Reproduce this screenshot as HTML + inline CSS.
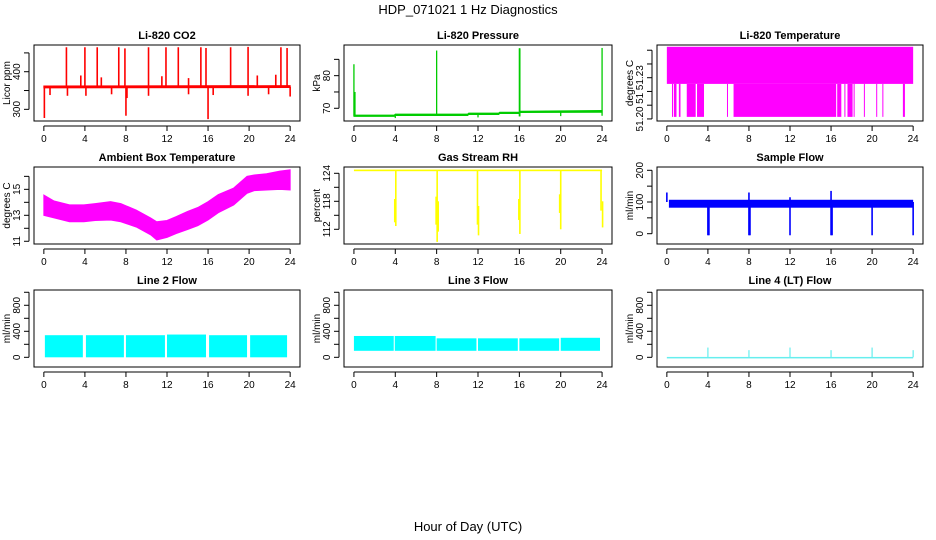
<!DOCTYPE html>
<html><head><meta charset="utf-8"><style>
html,body{margin:0;padding:0;background:#fff;}
svg{display:block;font-family:"Liberation Sans",sans-serif;}
</style></head><body>
<svg id="c" width="936" height="540" viewBox="0 0 936 540">
<text x="468" y="14" text-anchor="middle" font-size="13">HDP_071021  1 Hz Diagnostics</text>
<text x="468" y="531" text-anchor="middle" font-size="13">Hour of Day (UTC)</text>
</svg>
<script>
// ---- shared x axis ----
const xTicks = [0,4,8,12,16,20,24];
// ---- Li-820 CO2 ----
const co2BandX = [0,24];
const co2BandLo = [357,358];
const co2BandHi = [362,363];
const co2SpikeX = [2.2,4.0,5.2,7.3,7.9,10.2,11.9,13.1,15.3,15.8,18.2,19.9,23.1,23.7,3.6,5.6,11.5,14.1,20.8,22.6,0.05,0.6,2.3,4.1,6.6,8.1,10.2,14.1,16.5,19.9,21.9,24,8,16];
const co2SpikeLo = [360,360,360,360,360,360,360,360,360,360,360,360,360,360,360,360,360,360,360,360,277,338,336,336,340,330,336,340,338,336,340,334,283,274];
const co2SpikeHi = [465,465,465,465,462,465,465,465,465,463,465,466,465,463,390,385,388,383,390,392,360,360,360,360,360,360,360,360,360,360,360,360,360,360];
// ---- Li-820 Pressure ----
const prsBandX = [0,3.9,4,11,11.1,14,14.1,16,16.1,24];
const prsBandLo = [67.5,67.5,67.8,67.8,68.1,68.1,68.4,68.4,68.7,68.8];
const prsBandHi = [67.9,67.9,68.2,68.2,68.5,68.5,68.8,68.8,69.1,69.3];
const prsSpikeX = [0,0.1,8,16,16.05,24,4,12,20];
const prsSpikeLo = [67.7,67.7,67.7,67.5,67.5,67.7,67.0,67.2,67.6];
const prsSpikeHi = [83.5,75,87.7,88.4,88.4,88.5,68,68.3,68.9];
// ---- Li-820 Temperature ----
const tmpBlockStart = [0];
const tmpBlockEnd = [24];
const tmpBlockLo = [51.2255];
const tmpBlockHi = [51.2525];
const tmpLowStart = [0.5,0.68,1.17,1.94,2.94,5.86,6.5,16.6,17.3,17.6,18.2,19.2,20.4,21.0,23.0];
const tmpLowEnd = [0.56,0.94,1.33,2.81,3.62,5.92,16.5,17.0,17.4,18.1,18.25,19.25,20.45,21.05,23.2];
const tmpLowLo = [51.2015,51.2015,51.2015,51.2015,51.2015,51.2015,51.2015,51.2015,51.2015,51.2015,51.2015,51.2015,51.2015,51.2015,51.2015];
const tmpLowHi = [51.2255,51.2255,51.2255,51.2255,51.2255,51.2255,51.2255,51.2255,51.2255,51.2255,51.2255,51.2255,51.2255,51.2255,51.2255];
// ---- Ambient Box Temperature ----
const ambX = [0,1,2.5,3.9,5,6.5,7.5,9,10.4,11,12,12.9,14,15,16,17,18.5,19.8,20.5,21.7,23,24];
const ambLo = [13.0,12.8,12.5,12.5,12.6,12.64,12.5,12.1,11.5,11.1,11.3,11.6,11.9,12.2,12.64,13.2,13.8,14.7,14.9,14.95,15.0,14.95];
const ambHi = [14.56,14.1,13.8,13.8,13.9,14.05,13.9,13.4,12.8,12.5,12.6,12.9,13.3,13.6,14.05,14.6,15.1,16.0,16.1,16.2,16.4,16.5];
// ---- Gas Stream RH ----
const rhBlockStart = [0];
const rhBlockEnd = [24];
const rhBlockLo = [124.45];
const rhBlockHi = [124.8];
const rhSpikeX = [3.95,4.05,7.95,8.05,8.15,11.95,12.05,15.95,16.05,19.9,20.0,23.9,24.05];
const rhSpikeLo = [113.5,112.7,113,109.3,111.5,113,110.7,114,111,115.5,112,116,112.4];
const rhSpikeHi = [118.5,124.6,119,124.6,118,124.6,117,118.5,124.6,119.5,124.6,124.6,118];
// ---- Sample Flow ----
const sfBlockStart = [0.2];
const sfBlockEnd = [24];
const sfBlockLo = [82];
const sfBlockHi = [107];
const sfSpikeX = [0,4,4.1,8,8.1,12,16,16.1,20,24,8,12,16];
const sfSpikeLo = [100,-5,-5,-5,-5,-5,-5,-5,-5,-5,100,100,100];
const sfSpikeHi = [130,100,100,100,100,100,100,100,100,100,130,115,135];
// ---- Line 2 Flow ----
const l2BlockStart = [0.1,4.1,8.0,12.0,16.1,20.1];
const l2BlockEnd = [3.8,7.8,11.8,15.8,19.8,23.7];
const l2BlockLo = [0,0,0,0,0,0];
const l2BlockHi = [340,340,340,350,340,340];
// ---- Line 3 Flow ----
const l3BlockStart = [0,3.95,8,12,16,20];
const l3BlockEnd = [3.85,7.9,11.85,15.85,19.85,23.8];
const l3BlockLo = [100,100,100,100,100,100];
const l3BlockHi = [328,328,292,292,292,300];
// ---- Line 4 (LT) Flow ----
const l4BlockStart = [0];
const l4BlockEnd = [24];
const l4BlockLo = [-6];
const l4BlockHi = [6];
const l4SpikeX = [4,8,12,16,20,24];
const l4SpikeLo = [0,0,0,0,0,0];
const l4SpikeHi = [150,110,150,110,150,110];

const NS = "http://www.w3.org/2000/svg";
const svg = document.getElementById('c');
function mk(tag, attrs, parent){
  const e = document.createElementNS(NS, tag);
  for (const k in attrs) e.setAttribute(k, attrs[k]);
  (parent||svg).appendChild(e);
  return e;
}
const colL = [34,344,657], colR = [300,612,923];
const rowT = [45,167,290], rowB = [121,244,367];

function panel(o){
  const L = colL[o.col], R = colR[o.col], T = rowT[o.row], B = rowB[o.row];
  const g = mk('g', {});
  
  
  const xs = h => L + (h + 0.96) / 25.92 * (R - L);
  const ys = v => B - (v - o.yMin) / (o.yMax - o.yMin) * (B - T);
  // clip
  const cid = 'clip-' + o.name;
  const cp = mk('clipPath', {id: cid}, g);
  mk('rect', {x: L, y: T, width: R - L, height: B - T}, cp);
  const d = mk('g', {'clip-path': 'url(#' + cid + ')'}, g);
  
  
  if (o.bandX) {
    let pts = o.bandX.map((h,i) => xs(h) + ',' + ys(o.bandHi[i]));
    pts = pts.concat(o.bandX.map((h,i) => xs(h) + ',' + ys(o.bandLo[i])).reverse());
    const p = mk('polygon', {points: pts.join(' '), fill: o.color, stroke: o.color, 'stroke-width': 1}, d);
    
    
  }
  const blocks = (s, e, lo, hi, nm, fill) => {
    if (!s) return;
    s.forEach((h,i) => {
      const x1 = xs(h), x2 = Math.max(xs(e[i]), x1 + 1);
      const r = mk('rect', {x: x1, y: ys(hi[i]), width: x2 - x1, height: Math.max(ys(lo[i]) - ys(hi[i]), 1.5), fill: fill}, d);
      
      
    });
  };
  blocks(o.bs, o.be, o.blo, o.bhi, o.name + '-block', o.color);
  blocks(o.ls, o.le, o.llo, o.lhi, o.name + '-low-block', o.color);
  if (o.sx) {
    o.sx.forEach((h,i) => {
      const l = mk('line', {x1: xs(h), x2: xs(h), y1: ys(o.slo[i]), y2: ys(o.shi[i]), stroke: o.color, 'stroke-width': o.sw || 1.6}, d);
      
      
    });
  }
  // box
  const box = mk('rect', {x: L, y: T, width: R - L, height: B - T, fill: 'none', stroke: '#000', 'stroke-width': 1}, g);
  
  
  // title
  const t = mk('text', {x: (L + R) / 2, y: T - 6, 'text-anchor': 'middle', 'font-size': 11, 'font-weight': 'bold'}, g);
  t.textContent = o.title;
  
  
  // x axis
  const xa = mk('g', {}, g);
  
  
  mk('line', {x1: xs(0), x2: xs(24), y1: B + 5, y2: B + 5, stroke: '#000'}, xa);
  xTicks.forEach(h => {
    mk('line', {x1: xs(h), x2: xs(h), y1: B + 5, y2: B + 10, stroke: '#000'}, xa);
    const tl = mk('text', {x: xs(h), y: B + 21, 'text-anchor': 'middle', 'font-size': 10}, xa);
    tl.textContent = h;
    
    
  });
  // y axis
  const ya = mk('g', {}, g);
  
  
  const ax = L - 5;
  mk('line', {x1: ax, x2: ax, y1: ys(o.yTicks[0]), y2: ys(o.yTicks[o.yTicks.length - 1]), stroke: '#000'}, ya);
  o.yTicks.forEach(v => mk('line', {x1: ax, x2: ax - 5, y1: ys(v), y2: ys(v), stroke: '#000'}, ya));
  o.yLabels.forEach((v,i) => {
    const y = ys(v);
    const tl = mk('text', {x: 0, y: 0, 'text-anchor': 'middle', 'font-size': 10, transform: 'translate(' + (ax - 9) + ',' + y + ') rotate(-90)'}, ya);
    tl.textContent = o.yLabelText[i];
    
    
  });
  const yt = mk('text', {x: 0, y: 0, 'text-anchor': 'middle', 'font-size': 10, transform: 'translate(' + (L - 24) + ',' + ((T + B) / 2) + ') rotate(-90)'}, ya);
  yt.textContent = o.ylab;
  
  
}

panel({name:'co2', col:0,row:0,title:'Li-820 CO2',ylab:'Licor ppm',color:'#ff0000',yMin:269,yMax:471,
  yTicks:[300,350,400,450],yLabels:[300,400],yLabelText:['300','400'],
  bandX:co2BandX,bandLo:co2BandLo,bandHi:co2BandHi,sx:co2SpikeX,slo:co2SpikeLo,shi:co2SpikeHi});
panel({name:'pressure', col:1,row:0,title:'Li-820 Pressure',ylab:'kPa',color:'#00cc00',yMin:66.1,yMax:89.4,
  yTicks:[70,75,80,85],yLabels:[70,80],yLabelText:['70','80'],
  bandX:prsBandX,bandLo:prsBandLo,bandHi:prsBandHi,sx:prsSpikeX,slo:prsSpikeLo,shi:prsSpikeHi,sw:1.3});
panel({name:'li820-temp', col:2,row:0,title:'Li-820 Temperature',ylab:'degrees C',color:'#ff00ff',yMin:51.1985,yMax:51.2538,
  yTicks:[51.20,51.21,51.22,51.23,51.24,51.25],yLabels:[51.20,51.215,51.23],yLabelText:['51.20','51','51.23'],
  bs:tmpBlockStart,be:tmpBlockEnd,blo:tmpBlockLo,bhi:tmpBlockHi,ls:tmpLowStart,le:tmpLowEnd,llo:tmpLowLo,lhi:tmpLowHi});
panel({name:'ambient-temp', col:0,row:1,title:'Ambient Box Temperature',ylab:'degrees C',color:'#ff00ff',yMin:10.79,yMax:16.72,
  yTicks:[11,12,13,14,15,16],yLabels:[11,13,15],yLabelText:['11','13','15'],
  bandX:ambX,bandLo:ambLo,bandHi:ambHi});
panel({name:'gas-rh', col:1,row:1,title:'Gas Stream RH',ylab:'percent',color:'#ffff00',yMin:108.85,yMax:125.35,
  yTicks:[112,115,118,121,124],yLabels:[112,118,124],yLabelText:['112','118','124'],
  bs:rhBlockStart,be:rhBlockEnd,blo:rhBlockLo,bhi:rhBlockHi,sx:rhSpikeX,slo:rhSpikeLo,shi:rhSpikeHi});
panel({name:'sample-flow', col:2,row:1,title:'Sample Flow',ylab:'ml/min',color:'#0000ff',yMin:-32.5,yMax:210.4,
  yTicks:[0,50,100,150,200],yLabels:[0,100,200],yLabelText:['0','100','200'],
  bs:sfBlockStart,be:sfBlockEnd,blo:sfBlockLo,bhi:sfBlockHi,sx:sfSpikeX,slo:sfSpikeLo,shi:sfSpikeHi});
panel({name:'line2-flow', col:0,row:2,title:'Line 2 Flow',ylab:'ml/min',color:'#00ffff',yMin:-149,yMax:1035,
  yTicks:[0,200,400,600,800,1000],yLabels:[0,400,800],yLabelText:['0','400','800'],
  bs:l2BlockStart,be:l2BlockEnd,blo:l2BlockLo,bhi:l2BlockHi});
panel({name:'line3-flow', col:1,row:2,title:'Line 3 Flow',ylab:'ml/min',color:'#00ffff',yMin:-149,yMax:1035,
  yTicks:[0,200,400,600,800,1000],yLabels:[0,400,800],yLabelText:['0','400','800'],
  bs:l3BlockStart,be:l3BlockEnd,blo:l3BlockLo,bhi:l3BlockHi});
panel({name:'line4-flow', col:2,row:2,title:'Line 4 (LT) Flow',ylab:'ml/min',color:'#66eeee',yMin:-149,yMax:1035,
  yTicks:[0,200,400,600,800,1000],yLabels:[0,400,800],yLabelText:['0','400','800'],
  bs:l4BlockStart,be:l4BlockEnd,blo:l4BlockLo,bhi:l4BlockHi,sx:l4SpikeX,slo:l4SpikeLo,shi:l4SpikeHi,sw:1.2});
</script>
</body></html>
